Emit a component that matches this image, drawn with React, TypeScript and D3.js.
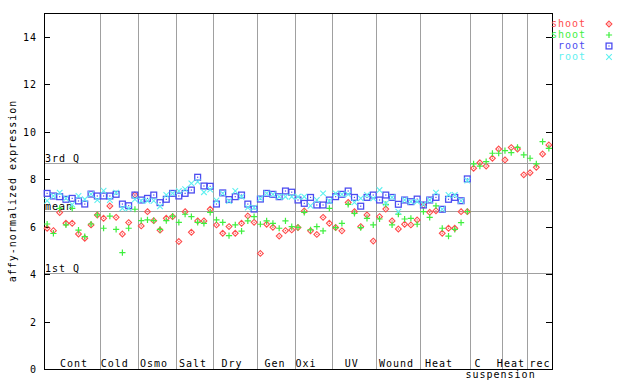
import React from "react";
import * as d3 from "d3";

const shootA = [5.93,5.83,6.59,6.14,6.14,5.69,5.51,6.07,6.49, 6.35,6.87,6.39,5.69,6.17,7.33, 6.03,6.63,6.25,5.85,6.35,6.42, 5.37,6.63,5.76,6.24,6.24,6.73, 6.07,5.72,6.0,5.72,6.14,6.45,6.18, 4.87,6.1,5.97,5.6,5.83,5.86, 5.96,6.66,5.82,5.67,6.39,6.14, 5.96,5.82,7.02,6.63,6.0,6.49,5.39, 6.42,6.74,6.24,5.9,6.1,6.07,6.28, 6.9,6.6,6.67,5.72,5.93,5.93,6.63,6.63, 8.46,8.69,8.55,8.88,9.27, 8.81,9.33,9.27,8.18, 8.27,8.5,9.06,9.44];
const shootB = [6.11,5.71,6.77,6.07,6.77,5.85,5.58,6.11,6.49, 5.93,6.44,5.88,4.9,5.93,6.73, 6.25,6.28,6.25,5.88,6.25,6.44, 6.18,6.52,6.42,6.18,6.14,6.6, 6.28,6.18,5.62,6.07,5.81,6.24,6.42, 6.1,6.24,6.14,5.93,6.24,6.0, 5.97,6.6,5.86,6.0,5.82,6.77, 5.96,6.14,6.94,6.56,5.96,6.35,6.07, 6.32,6.94,6.07,6.52,6.32,6.35,6.1, 6.63,6.39,6.87,5.93,5.6,5.88,6.17,6.63, 8.64,8.55,8.74,9.09,9.09, 9.2,9.12,9.34,9.02, 8.88,8.64,9.58,9.3];
const rootA = [7.4,7.29,7.26,7.15,7.19,7.08,6.95,7.37,7.29, 7.29,7.29,7.36,6.95,6.88,7.33, 7.12,7.19,7.33,7.01,7.15,7.4, 7.29,7.4,7.54,8.08,7.71,7.7, 6.95,7.42,7.14,7.26,7.33,6.95,6.74, 7.16,7.4,7.36,7.26,7.5,7.45, 7.12,6.98,7.23,6.91,6.91,7.12, 7.26,7.36,7.5,7.23,6.86,7.23,7.33, 7.12,7.33,7.23,6.94,7.12,7.05,7.16, 6.91,7.12,7.23,6.73,7.15,7.23,7.09,8.01];
const rootB = [7.09,7.29,7.43,7.19,6.93,7.29,7.15,7.37,7.12, 7.51,7.12,7.43,6.77,6.77,7.15, 7.09,7.09,7.09,6.85,7.33,7.4, 7.5,7.58,7.82,7.89,7.45,7.56, 7.1,7.4,7.08,7.5,7.26,6.8,6.8, 7.19,7.4,7.36,7.26,7.26,7.26, 7.26,7.26,6.88,7.12,7.4,7.08, 7.4,7.36,7.36,7.02,7.19,7.33,7.19, 7.54,6.98,7.23,6.63,7.12,7.05,7.05, 6.94,7.12,7.43,6.73,7.33,7.33,7.09,7.94];

const groupLabels = ["Cont","Cold","Osmo","Salt","Dry","Gen","Oxi","UV","Wound","Heat","C","Heat","rec"];
const groupSizes = [9,6,6,6,7,6,6,7,7,8,5,4,4];
const labelAt = [4.78,11.27,17.54,23.76,29.97,36.83,41.77,49.06,56.2,62.97,69.2,74.45,79.08];
const subLabel = "suspension";
const subLabelAt = 72.8;

const refNames = ["3rd Q","mean","1st Q"];
const refValues = [8.68,6.64,4.06];

const yTicks = [0,2,4,6,8,10,12,14];
const legendNames = ["shoot","shoot","root","root"];
const colors = ["#ff4c4c","#3fef3f","#4c4cf0","#5ff0f0"];

const W = 640, H = 384;
const L = 44, R = 552, T = 13, B = 369;
const N = groupSizes.reduce((a, b) => a + b, 0);

const x = d3.scaleLinear().domain([0, N]).range([L, R]);
const y = d3.scaleLinear().domain([0, 15]).range([B, T]);
const FONT = "'DejaVu Sans Mono', monospace";

function Marker({ kind, cx, cy, color }: { kind: number; cx: number; cy: number; color: string }) {
  if (kind === 0) {
    const d = 2.9;
    return (
      <g>
        <path d={`M${cx},${cy - d}L${cx + d},${cy}L${cx},${cy + d}L${cx - d},${cy}Z`} fill="none" stroke={color} strokeWidth={1.1} />
        <rect x={cx - 0.6} y={cy - 0.6} width={1.2} height={1.2} fill={color} />
      </g>
    );
  }
  if (kind === 1) {
    const d = 3.1;
    return (
      <path d={`M${cx - d},${cy}H${cx + d}M${cx},${cy - d}V${cy + d}`} stroke={color} strokeWidth={1.2} />
    );
  }
  if (kind === 2) {
    const r = 2.9;
    return (
      <g>
        <rect x={cx - r} y={cy - r} width={2 * r} height={2 * r} fill="none" stroke={color} strokeWidth={1.3} />
        <rect x={cx - 0.6} y={cy - 0.6} width={1.2} height={1.2} fill={color} />
      </g>
    );
  }
  const r = 2.8;
  return (
    <path d={`M${cx - r},${cy - r}L${cx + r},${cy + r}M${cx - r},${cy + r}L${cx + r},${cy - r}`} stroke={color} strokeWidth={1.1} />
  );
}

export default function App() {
  const series = [shootA, shootB, rootA, rootB];
  const starts: number[] = [];
  groupSizes.reduce((acc, s) => { starts.push(acc); return acc + s; }, 0);
  const textStyle = { fontFamily: FONT, fontSize: 10, letterSpacing: 1 } as const;

  return (
    <svg width={W} height={H} style={{ position: "absolute", left: 0, top: 0, background: "#fff" }}>
      <rect width={W} height={H} fill="#fff" />
      {starts.slice(1).map((s, i) => (
        <line key={"v" + i} x1={Math.round(x(s)) + 0.5} x2={Math.round(x(s)) + 0.5} y1={T} y2={B} stroke="#a0a0a0" strokeWidth={1} />
      ))}
      {refValues.map((v, i) => (
        <g key={"r" + i}>
          <line x1={L} x2={R} y1={Math.round(y(v)) + 0.5} y2={Math.round(y(v)) + 0.5} stroke="#a0a0a0" strokeWidth={1} />
          <text x={L + 1} y={Math.round(y(v)) - 1} style={textStyle} fill="#000">{refNames[i]}</text>
        </g>
      ))}
      <rect x={L + 0.5} y={T + 0.5} width={R - L} height={B - T} fill="none" stroke="#000" strokeWidth={1} />
      {yTicks.map((t) => (
        <g key={"t" + t}>
          <line x1={L} x2={L + 6} y1={Math.round(y(t)) + 0.5} y2={Math.round(y(t)) + 0.5} stroke="#000" />
          <line x1={R - 6} x2={R} y1={Math.round(y(t)) + 0.5} y2={Math.round(y(t)) + 0.5} stroke="#000" />
          <text x={37} y={y(t) + 4} textAnchor="end" style={textStyle} fill="#000">{t}</text>
        </g>
      ))}
      <text transform={`translate(16,${(T + B) / 2}) rotate(-90)`} textAnchor="middle" style={textStyle} fill="#000">affy-normalized expression</text>
      {groupLabels.map((g, i) => (
        <text key={"g" + i} x={x(labelAt[i])} y={367} textAnchor="middle" style={textStyle} fill="#000">{g}</text>
      ))}
      <text x={x(subLabelAt)} y={378} textAnchor="middle" style={textStyle} fill="#000">{subLabel}</text>
      {series.map((vals, si) => (
        <g key={"s" + si}>
          {vals.map((v, i) => (
            <Marker key={i} kind={si} cx={x(i + 0.5)} cy={y(v)} color={colors[si]} />
          ))}
        </g>
      ))}
      {legendNames.map((n, i) => (
        <g key={"l" + i}>
          <text x={586} y={27 + i * 11} textAnchor="end" style={textStyle} fill={colors[i]}>{n}</text>
          <Marker kind={i} cx={609} cy={24 + i * 11} color={colors[i]} />
        </g>
      ))}
    </svg>
  );
}
